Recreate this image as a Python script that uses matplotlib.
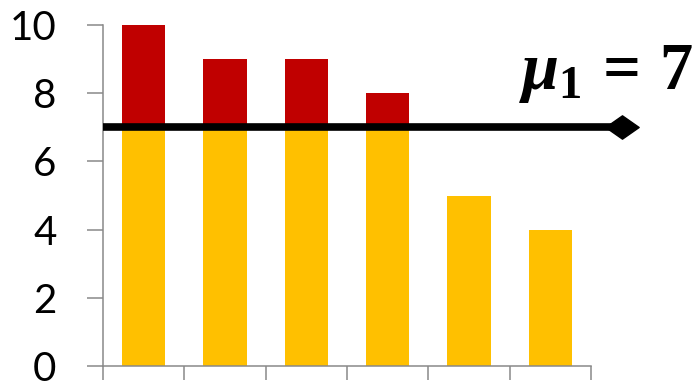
import matplotlib
matplotlib.use("Agg")
import matplotlib.pyplot as plt
import numpy as np

# Data
values = [10, 9, 9, 8, 5, 4]
mean_value = 7
mean_label = r"$\mu_1\,=\,7$"
yticks = [0, 2, 4, 6, 8, 10]

yellow = "#FFC000"
red = "#C00000"
axis_gray = "#898989"

# Heavy serif math for the mean annotation
plt.rcParams["mathtext.fontset"] = "custom"
plt.rcParams["mathtext.rm"] = "Liberation Serif:bold"
plt.rcParams["mathtext.it"] = "Liberation Serif:bold:italic"
plt.rcParams["mathtext.bf"] = "Liberation Serif:bold"

fig = plt.figure(figsize=(6.97, 3.83), dpi=100)
ax = fig.add_axes([103 / 697, 17 / 383, 488 / 697, 341 / 383])

x = np.arange(len(values))
vals = np.array(values, dtype=float)
lower = np.minimum(vals, mean_value)
upper = np.clip(vals - mean_value, 0, None)

ax.bar(x, lower, width=0.53, color=yellow, edgecolor="none", zorder=2)
ax.bar(x, upper, width=0.53, bottom=lower, color=red, edgecolor="none", zorder=2)

ax.set_xlim(-0.5, len(values) - 0.5)
ax.set_ylim(0, 10)

# Mean line extending past the plot with a diamond head
line_end = len(values) - 0.12
ax.plot([-0.5, line_end], [mean_value, mean_value], color="black", lw=5.5,
        solid_capstyle="butt", clip_on=False, zorder=4)
diamond = [(-1, 0), (0, 0.7), (1, 0), (0, -0.7), (-1, 0)]
ax.plot([line_end], [mean_value], marker=diamond, markersize=24,
        color="black", clip_on=False, zorder=5)

ax.text(len(values) + 0.757, 8.12, mean_label, fontsize=48,
        ha="right", va="baseline", color="black")

# Axes styling
for side in ("top", "right"):
    ax.spines[side].set_visible(False)
for side in ("left", "bottom"):
    ax.spines[side].set_color(axis_gray)
    ax.spines[side].set_linewidth(1.1)

ax.set_yticks(yticks)
ax.set_yticklabels([str(t) for t in yticks], fontfamily="Lato", fontsize=29)
ax.set_xticks(np.arange(-0.5, len(values), 1.0))
ax.set_xticklabels([])
ax.tick_params(axis="y", direction="out", length=11.5, width=1.1,
               color=axis_gray, pad=22)
ax.tick_params(axis="x", direction="out", length=10, width=1.1,
               color=axis_gray)

fig.savefig("out.png", dpi=100)
